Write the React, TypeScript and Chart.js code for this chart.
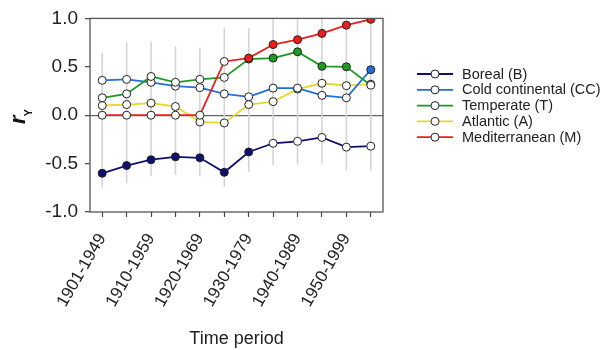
import React, { useEffect, useRef } from "react";
import { Chart, registerables } from "chart.js";

Chart.register(...registerables);

const periods = [
  "1901-1949", "1905-1954", "1910-1959", "1915-1964", "1920-1969", "1925-1974",
  "1930-1979", "1935-1984", "1940-1989", "1945-1994", "1950-1999", "1955-2004",
];
const yTicks = [-1.0, -0.5, 0.0, 0.5, 1.0];

const boreal = [-0.6, -0.52, -0.46, -0.43, -0.44, -0.59, -0.38, -0.29, -0.27, -0.23, -0.33, -0.32];
const coldContinental = [0.36, 0.37, 0.34, 0.3, 0.285, 0.22, 0.19, 0.28, 0.28, 0.205, 0.18, 0.47];
const temperate = [0.18, 0.22, 0.4, 0.34, 0.37, 0.39, 0.58, 0.59, 0.655, 0.505, 0.5, 0.31];
const atlantic = [0.1, 0.11, 0.125, 0.09, -0.07, -0.08, 0.11, 0.14, 0.27, 0.33, 0.305, 0.32];
const mediterranean = [0, 0, 0, 0, 0, 0.555, 0.59, 0.73, 0.78, 0.845, 0.93, 0.99];

// 1 = significant (filled marker)
const borealSig = [1, 1, 1, 1, 1, 1, 1, 0, 0, 0, 0, 0];
const coldContinentalSig = [0, 0, 0, 0, 0, 0, 0, 0, 0, 0, 0, 1];
const temperateSig = [0, 0, 0, 0, 0, 0, 1, 1, 1, 1, 1, 0];
const atlanticSig = [0, 0, 0, 0, 0, 0, 0, 0, 0, 0, 0, 0];
const mediterraneanSig = [0, 0, 0, 0, 0, 0, 1, 1, 1, 1, 1, 1];

// grey range bars per period
const rangeHigh = [0.645, 0.76, 0.76, 0.71, 0.7, 0.905, 0.9, 1.0, 1.0, 1.0, 1.0, 1.0];
const rangeLow = [-0.75, -0.7, -0.63, -0.62, -0.62, -0.74, -0.59, -0.52, -0.51, -0.5, -0.57, -0.57];

const seriesNames = [
  "Boreal (B)",
  "Cold continental (CC)",
  "Temperate (T)",
  "Atlantic (A)",
  "Mediterranean (M)",
];
const seriesColors = ["#101070", "#1f6fdc", "#1c9a22", "#e4d82c", "#f01c1c"];

const FONT = "'Liberation Sans', Arial, sans-serif";

export default function App() {
  const ref = useRef<HTMLCanvasElement | null>(null);

  useEffect(() => {
    document.body.style.margin = "0";
    const canvas = ref.current;
    if (!canvas) return;

    const values = [boreal, coldContinental, temperate, atlantic, mediterranean];
    const sigs = [borealSig, coldContinentalSig, temperateSig, atlanticSig, mediterraneanSig];
    const orders = [5, 3, 2, 4, 1];

    const datasets = values.map((vals, i) => ({
      label: seriesNames[i],
      data: vals,
      borderColor: seriesColors[i],
      borderWidth: 1.8,
      pointRadius: 4,
      pointHoverRadius: 4,
      pointBorderWidth: 1,
      pointBorderColor: "#222",
      pointBackgroundColor: sigs[i].map((s) => (s ? seriesColors[i] : "#ffffff")),
      tension: 0,
      fill: false,
      order: orders[i],
    }));

    const rangePlugin = {
      id: "rangeBars",
      beforeDatasetsDraw(chart: any) {
        const { ctx, scales, chartArea } = chart;
        ctx.save();
        ctx.beginPath();
        ctx.rect(chartArea.left, chartArea.top, chartArea.right - chartArea.left, chartArea.bottom - chartArea.top);
        ctx.clip();
        ctx.strokeStyle = "#d4d4d4";
        ctx.lineWidth = 1.6;
        for (let i = 0; i < periods.length; i++) {
          const x = scales.x.getPixelForValue(i);
          ctx.beginPath();
          ctx.moveTo(x, scales.y.getPixelForValue(rangeHigh[i]));
          ctx.lineTo(x, scales.y.getPixelForValue(rangeLow[i]));
          ctx.stroke();
        }
        ctx.restore();
      },
      afterDraw(chart: any) {
        const { ctx, chartArea } = chart;
        ctx.save();
        // frame
        ctx.strokeStyle = "#555";
        ctx.lineWidth = 1.3;
        ctx.strokeRect(chartArea.left, chartArea.top, chartArea.right - chartArea.left, chartArea.bottom - chartArea.top);

        // y title r_Y
        ctx.translate(25, 124);
        ctx.rotate(-Math.PI / 2);
        ctx.fillStyle = "#111";
        ctx.textBaseline = "alphabetic";
        ctx.textAlign = "left";
        ctx.font = `italic bold 22px ${FONT}`;
        ctx.fillText("r", 0, 0);
        const rw = ctx.measureText("r").width;
        ctx.font = `bold 11px ${FONT}`;
        ctx.fillText("Y", rw - 1, 7);
        ctx.restore();

        // legend
        ctx.save();
        const lx0 = 417;
        const lx1 = 453;
        const ly0 = 74;
        const step = 15.8;
        ctx.font = `14.5px ${FONT}`;
        ctx.textBaseline = "middle";
        ctx.textAlign = "left";
        for (let i = 0; i < seriesNames.length; i++) {
          const y = ly0 + i * step;
          ctx.strokeStyle = seriesColors[i];
          ctx.lineWidth = 1.8;
          ctx.beginPath();
          ctx.moveTo(lx0, y);
          ctx.lineTo(lx1, y);
          ctx.stroke();
          ctx.beginPath();
          ctx.arc((lx0 + lx1) / 2, y, 4, 0, Math.PI * 2);
          ctx.fillStyle = "#fff";
          ctx.fill();
          ctx.strokeStyle = "#222";
          ctx.lineWidth = 1;
          ctx.stroke();
          ctx.fillStyle = "#222";
          ctx.fillText(seriesNames[i], 462, y + 0.5);
        }
        ctx.restore();
      },
    };

    const chart = new Chart(canvas, {
      type: "line",
      data: { labels: periods, datasets },
      plugins: [rangePlugin],
      options: {
        animation: false,
        responsive: false,
        layout: { padding: { left: 0, right: 231, top: 17, bottom: 0 } },
        plugins: {
          legend: { display: false },
          tooltip: { enabled: false },
        },
        scales: {
          x: {
            type: "category",
            offset: true,
            grid: {
              display: true,
              drawOnChartArea: false,
              tickLength: 5,
              tickColor: "#444",
              tickWidth: 1.2,
            },
            border: { display: false },
            ticks: {
              autoSkip: false,
              minRotation: 60,
              maxRotation: 60,
              padding: 13,
              color: "#222",
              font: { family: FONT, size: 17 },
              callback: (_v: any, i: number) => (i % 2 === 0 ? periods[i] : ""),
            },
            title: {
              display: true,
              text: "Time period",
              color: "#222",
              font: { family: FONT, size: 18 },
              padding: { top: 0, bottom: 0 },
            },
            afterFit: (s: any) => {
              s.height = 138;
            },
          },
          y: {
            min: -1,
            max: 1,
            afterBuildTicks: (s: any) => {
              s.ticks = yTicks.map((v) => ({ value: v }));
            },
            grid: {
              display: true,
              drawOnChartArea: true,
              tickLength: 5,
              tickColor: "#444",
              tickWidth: 1.2,
              lineWidth: 1.3,
              color: (c: any) => (c.tick && c.tick.value === 0 ? "#666" : "rgba(0,0,0,0)"),
            },
            border: { display: false },
            ticks: {
              padding: 7,
              color: "#222",
              font: { family: FONT, size: 19 },
              callback: (v: any) => Number(v).toFixed(1),
            },
            afterFit: (s: any) => {
              s.width = 90;
            },
          },
        },
      },
    });

    return () => chart.destroy();
  }, []);

  return (
    <div style={{ width: 614, height: 350 }}>
      <canvas ref={ref} width={614} height={350} />
    </div>
  );
}
